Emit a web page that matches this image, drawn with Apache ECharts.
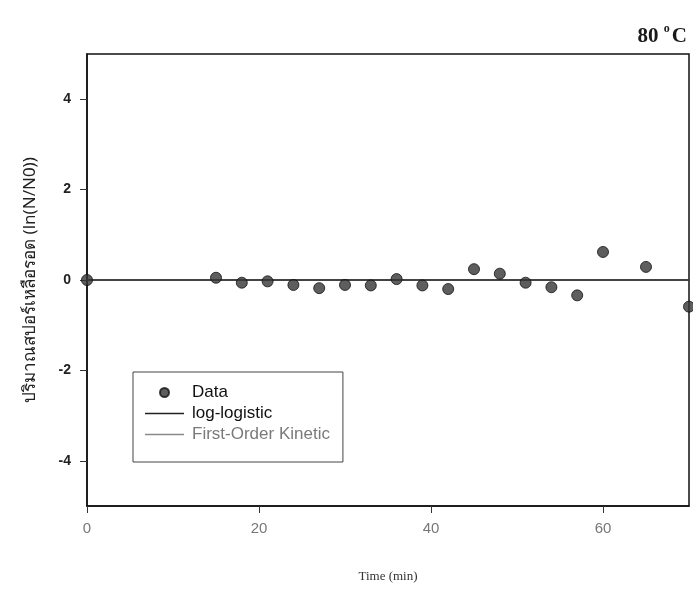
<!DOCTYPE html>
<html>
<head>
<meta charset="utf-8">
<script src="https://cdn.jsdelivr.net/npm/echarts@6/dist/echarts.min.js"></script>
<style>
  html, body { margin: 0; padding: 0; background: #fff; }
  #chart { width: 693px; height: 593px; }
</style>
</head>
<body>
<div id="chart"></div>
<script>
// Sampling times (min) and surviving spore ratio ln(N/N0) at 80 °C
const timeMin = [0, 15, 18, 21, 24, 27, 30, 33, 36, 39, 42, 45, 48, 51, 54, 57, 60, 65, 70];
const lnRatio = [0, 0.05, -0.06, -0.03, -0.11, -0.18, -0.11, -0.12, 0.02, -0.12, -0.2, 0.24, 0.14, -0.06, -0.16, -0.34, 0.62, 0.29, -0.59];

// Fitted model curves (both flat at zero over the range)
const fitTime = [0, 70];
const logLogisticFit = [0, 0];
const firstOrderFit = [0, 0];

const seriesNames = ['Data', 'log-logistic', 'First-Order Kinetic'];

// Thin horizontal bar used as the legend key for the fitted lines
const lineKey = 'path://M0,0H40V1.4H0Z';

const chart = echarts.init(document.getElementById('chart'), null, { renderer: 'canvas' });

const pairs = (xs, ys) => xs.map((x, i) => [x, ys[i]]);

chart.setOption({
  animation: false,
  backgroundColor: '#ffffff',
  title: {
    text: '{n|80 }{d|o}{n|C}',
    right: 1,
    top: 18,
    textStyle: {
      rich: {
        n: { fontFamily: 'Liberation Serif', fontWeight: 'bold', fontSize: 21, color: '#1a1a1a', verticalAlign: 'bottom', lineHeight: 24 },
        d: { fontFamily: 'Liberation Serif', fontWeight: 'bold', fontSize: 12, color: '#1a1a1a', verticalAlign: 'top', lineHeight: 24, padding: [0, 2, 12, 0] }
      }
    }
  },
  grid: {
    left: 87, right: 4, top: 54, bottom: 87,
    show: true,
    borderColor: '#111',
    borderWidth: 1.5,
    backgroundColor: 'transparent'
  },
  legend: {
    orient: 'vertical',
    left: 133,
    top: 372,
    padding: [12, 13, 19, 12],
    itemGap: 4,
    itemWidth: 39,
    itemHeight: 9,
    symbolKeepAspect: true,
    backgroundColor: '#ffffff',
    borderColor: '#444',
    borderWidth: 1,
    borderRadius: 0,
    textStyle: { fontFamily: 'Liberation Sans', fontSize: 17, color: '#111', padding: [0, 0, 0, 3] },
    data: [
      { name: seriesNames[0], icon: 'circle' },
      { name: seriesNames[1], icon: lineKey },
      { name: seriesNames[2], icon: lineKey, textStyle: { color: '#7a7a7a' } }
    ]
  },
  xAxis: {
    type: 'value',
    min: 0,
    max: 70,
    splitNumber: 4,
    minInterval: 20,
    maxInterval: 20,
    name: 'Time (min)',
    nameLocation: 'middle',
    nameGap: 64,
    nameTextStyle: { fontFamily: 'Liberation Serif', fontSize: 13, color: '#333' },
    axisLine: { show: true, onZero: false, lineStyle: { color: '#111', width: 1.5 } },
    axisTick: { show: true, inside: false, length: 7, lineStyle: { color: '#333' } },
    axisLabel: {
      showMaxLabel: false,
      margin: 15,
      fontFamily: 'Liberation Sans',
      fontSize: 15,
      color: '#777'
    },
    splitLine: { show: false }
  },
  yAxis: {
    type: 'value',
    min: -5,
    max: 5,
    splitNumber: 5,
    minInterval: 2,
    maxInterval: 2,
    name: 'ปริมาณสปอร์เหลือรอด (ln(N/N0))',
    nameLocation: 'middle',
    nameGap: 48,
    nameRotate: 90,
    nameTextStyle: { fontFamily: 'Noto Sans', fontSize: 17, color: '#222' },
    axisLine: { show: true, onZero: false, lineStyle: { color: '#111', width: 1.5 } },
    axisTick: { show: true, inside: false, length: 7, lineStyle: { color: '#333' } },
    axisLabel: {
      showMinLabel: false,
      showMaxLabel: false,
      margin: 16,
      fontFamily: 'Liberation Sans',
      fontWeight: 'bold',
      fontSize: 14,
      color: '#222'
    },
    splitLine: { show: false }
  },
  series: [
    {
      name: seriesNames[2],
      type: 'line',
      data: pairs(fitTime, firstOrderFit),
      symbol: 'none',
      lineStyle: { color: '#8a8a8a', width: 1.3 },
      itemStyle: { color: '#8a8a8a' },
      z: 2
    },
    {
      name: seriesNames[1],
      type: 'line',
      data: pairs(fitTime, logLogisticFit),
      symbol: 'none',
      lineStyle: { color: '#222', width: 1.3 },
      itemStyle: { color: '#222' },
      z: 3
    },
    {
      name: seriesNames[0],
      type: 'scatter',
      data: pairs(timeMin, lnRatio),
      symbol: 'circle',
      symbolSize: 11,
      clip: false,
      itemStyle: { color: '#363636', borderColor: '#111', borderWidth: 1 },
      z: 4
    }
  ]
});
</script>
</body>
</html>
